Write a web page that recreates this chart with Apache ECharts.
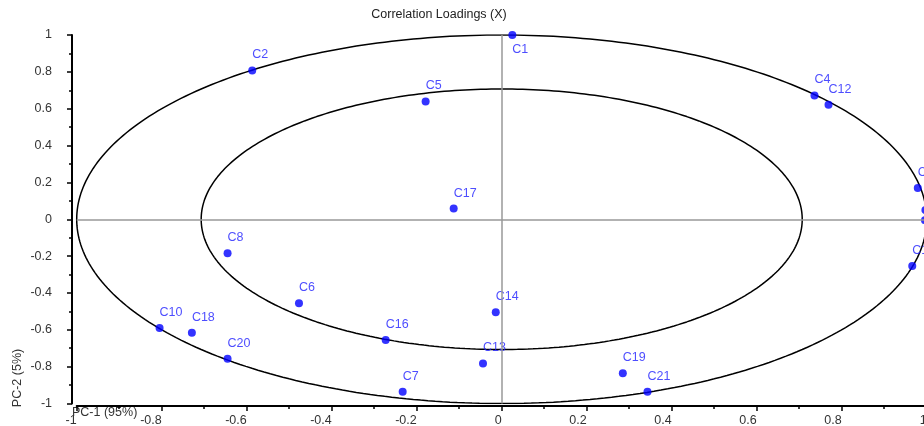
<!DOCTYPE html>
<html>
<head>
<meta charset="utf-8">
<script src="https://cdn.jsdelivr.net/npm/echarts@6/dist/echarts.min.js"></script>
<style>
  html, body { margin: 0; padding: 0; background: #fff; }
  #chart { width: 924px; height: 426px; }
</style>
</head>
<body>
<div id="chart"></div>
<script>
// Variable names and their loadings on the first two components
const names = ['C1', 'C2', 'C3', 'C4', 'C5', 'C6', 'C7', 'C8', 'C9', 'C10', 'C11',
               'C12', 'C13', 'C14', 'C15', 'C16', 'C17', 'C18', 'C19', 'C20', 'C21'];
const pc1 = [0.025, -0.587, 0.979, 0.736, -0.179, -0.477, -0.233, -0.645, 0.997, -0.805, 0.996,
             0.769, -0.044, -0.014, 0.966, -0.273, -0.113, -0.729, 0.285, -0.645, 0.343];
const pc2 = [1.0, 0.808, 0.169, 0.672, 0.639, -0.456, -0.936, -0.185, 0.05, -0.590, -0.005,
             0.621, -0.783, -0.505, -0.254, -0.656, 0.058, -0.616, -0.836, -0.757, -0.936];

// Reference circles: 100% and 50% explained variance
const circleRadii = [1, Math.SQRT1_2];
const axisTicks = [-1, -0.8, -0.6, -0.4, -0.2, 0, 0.2, 0.4, 0.6, 0.8, 1];

const FONT = 'Liberation Sans, Arial, sans-serif';
const FS = 12.5;

function circlePoints(r) {
  const pts = [];
  for (let i = 0; i <= 360; i++) {
    const a = i * Math.PI / 180;
    pts.push([r * Math.cos(a), r * Math.sin(a)]);
  }
  return pts;
}

const points = names.map((n, i) => ({
  name: n,
  value: [pc1[i], pc2[i]],
  label: n === 'C1' ? { position: [4, 12] } : undefined
}));

const chart = echarts.init(document.getElementById('chart'), null, { renderer: 'canvas' });

const axisCommon = {
  type: 'value',
  min: axisTicks[0],
  max: axisTicks[axisTicks.length - 1],
  interval: 0.2,
  splitLine: { show: false },
  axisLine: { show: true, onZero: false, lineStyle: { color: '#000', width: 2 } },
  axisTick: { show: true, inside: false, length: 5, lineStyle: { color: '#000', width: 1.5 } },
  minorTick: { show: true, splitNumber: 2, length: 3, lineStyle: { color: '#000', width: 1.5 } }
};

chart.setOption({
  animation: false,
  backgroundColor: '#fff',
  grid: { left: 76.7, right: -2.7, top: 35, bottom: 22.5, containLabel: false,
          outerBoundsMode: 'none' },
  xAxis: Object.assign({}, axisCommon, {
    offset: 2.5,
    axisLabel: { color: '#333', fontFamily: FONT, fontSize: FS, align: 'right', margin: 8,
                 showMinLabel: true, showMaxLabel: true }
  }),
  yAxis: Object.assign({}, axisCommon, {
    offset: 4.7,
    axisLabel: { color: '#333', fontFamily: FONT, fontSize: FS, margin: 20,
                 verticalAlign: 'middle', padding: [0, 0, 10, 0],
                 showMinLabel: true, showMaxLabel: true }
  }),
  graphic: [
    { type: 'text', x: 439, y: 15, silent: true,
      style: { text: 'Correlation Loadings (X)', fill: '#222', font: FS + 'px ' + FONT,
               textAlign: 'center', textVerticalAlign: 'middle' } },
    { type: 'text', x: 72, y: 413, silent: true,
      style: { text: 'PC-1 (95%)', fill: '#333', font: FS + 'px ' + FONT,
               textAlign: 'left', textVerticalAlign: 'middle' } },
    { type: 'text', x: 18, y: 378, rotation: Math.PI / 2, silent: true,
      style: { text: 'PC-2 (5%)', fill: '#333', font: FS + 'px ' + FONT,
               textAlign: 'center', textVerticalAlign: 'middle' } }
  ],
  series: [
    ...circleRadii.map(r => ({
      type: 'line',
      data: circlePoints(r),
      showSymbol: false,
      symbol: 'none',
      silent: true,
      lineStyle: { color: '#000', width: 1.5 },
      z: 2
    })),
    {
      type: 'scatter',
      data: points,
      symbol: 'circle',
      symbolSize: 8,
      itemStyle: { color: '#0000ff' },
      label: {
        show: true,
        formatter: '{b}',
        position: [4, -18],
        color: '#2020ff',
        fontFamily: FONT,
        fontSize: FS
      },
      markLine: {
        silent: true,
        symbol: 'none',
        label: { show: false },
        lineStyle: { color: '#999', width: 1.5, type: 'solid' },
        data: [{ xAxis: 0 }, { yAxis: 0 }]
      },
      z: 3
    }
  ]
});
</script>
</body>
</html>
